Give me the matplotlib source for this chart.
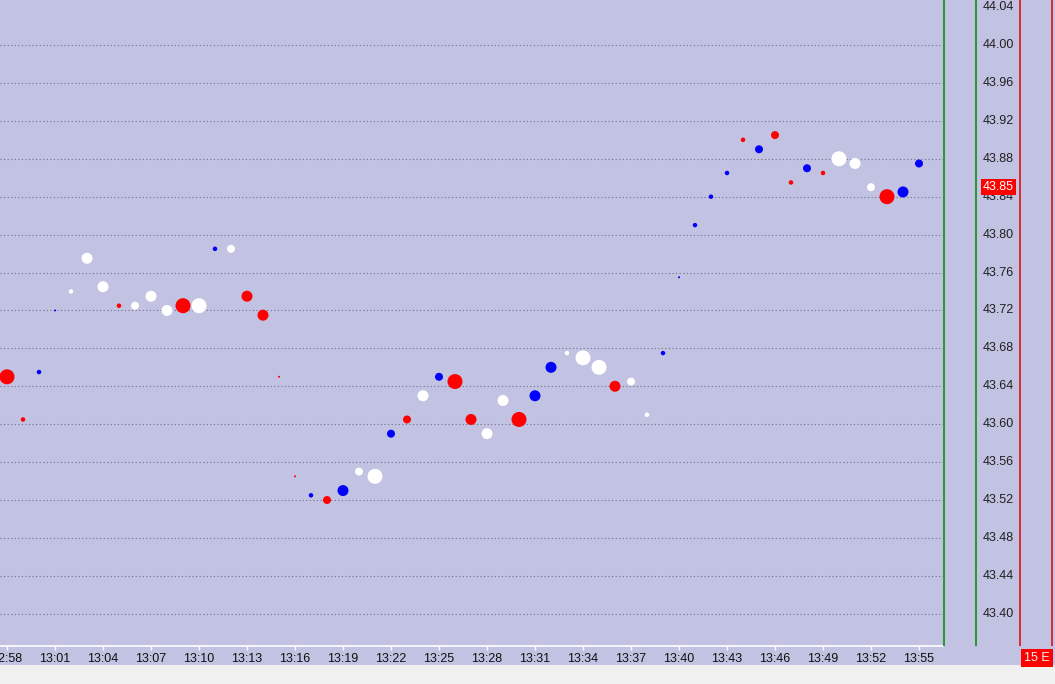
import matplotlib
matplotlib.use("Agg")
import matplotlib.pyplot as plt
from matplotlib.patches import Rectangle

# trade prints, one per minute
times = ["12:58", "12:59", "13:00", "13:01", "13:02", "13:03", "13:04", "13:05",
         "13:06", "13:07", "13:08", "13:09", "13:10", "13:11", "13:12", "13:13",
         "13:14", "13:15", "13:16", "13:17", "13:18", "13:19", "13:20", "13:21",
         "13:22", "13:23", "13:24", "13:25", "13:26", "13:27", "13:28", "13:29",
         "13:30", "13:31", "13:32", "13:33", "13:34", "13:35", "13:36", "13:37",
         "13:38", "13:39", "13:40", "13:41", "13:42", "13:43", "13:44", "13:45",
         "13:46", "13:47", "13:48", "13:49", "13:50", "13:51", "13:52", "13:53",
         "13:54", "13:55"]
prices = [43.65, 43.605, 43.655, 43.72, 43.74, 43.775, 43.745, 43.725,
          43.725, 43.735, 43.72, 43.725, 43.725, 43.785, 43.785, 43.735,
          43.715, 43.65, 43.545, 43.525, 43.52, 43.53, 43.55, 43.545,
          43.59, 43.605, 43.63, 43.65, 43.645, 43.605, 43.59, 43.625,
          43.605, 43.63, 43.66, 43.675, 43.67, 43.66, 43.64, 43.645,
          43.61, 43.675, 43.755, 43.81, 43.84, 43.865, 43.90, 43.89,
          43.905, 43.855, 43.87, 43.865, 43.88, 43.875, 43.85, 43.84,
          43.845, 43.875]
# r = sell, b = buy, w = neutral
sides = ["r", "r", "b", "b", "w", "w", "w", "r",
         "w", "w", "w", "r", "w", "b", "w", "r",
         "r", "r", "r", "b", "r", "b", "w", "w",
         "b", "r", "w", "b", "r", "r", "w", "w",
         "r", "b", "b", "w", "w", "w", "r", "w",
         "w", "b", "b", "b", "b", "b", "r", "b",
         "r", "r", "b", "r", "w", "w", "w", "r",
         "b", "b"]
# volume bucket 1..5
volume = [5, 2, 2, 1, 2, 4, 4, 2,
          3, 4, 4, 5, 5, 2, 3, 4,
          4, 1, 1, 2, 3, 4, 3, 5,
          3, 3, 4, 3, 5, 4, 4, 4,
          5, 4, 4, 2, 5, 5, 4, 3,
          2, 2, 1, 2, 2, 2, 2, 3,
          3, 2, 3, 2, 5, 4, 3, 5,
          4, 3]
tick_times = times[::3]
price_ticks = [44.04, 44.00, 43.96, 43.92, 43.88, 43.84, 43.80, 43.76, 43.72,
               43.68, 43.64, 43.60, 43.56, 43.52, 43.48, 43.44, 43.40]
last_price = 43.85

bg = "#c2c2e2"
colmap = {"r": "#ff0000", "b": "#0000ff", "w": "#ffffff"}
diam = {1: 2, 2: 4.5, 3: 8, 4: 11, 5: 15}  # pixels
fnt = dict(fontfamily="Liberation Sans", fontsize=9)


def minutes(s):
    h, m = s.split(":")
    return int(h) * 60 + int(m)


W, H = 1055, 684
fig = plt.figure(figsize=(W / 100, H / 100), dpi=100, facecolor="#f0f0f0")
fig.patches.append(Rectangle((0, 19 / H), 1, 665 / H, transform=fig.transFigure,
                             facecolor=bg, edgecolor="none", zorder=-10))

ax = fig.add_axes([0, 38 / H, 943 / W, 646 / H], facecolor=bg)
x = [minutes(t) for t in times]
sz = [(diam[v] * 0.72) ** 2 for v in volume]
cols = [colmap[c] for c in sides]
ax.scatter(x, prices, s=sz, c=cols, linewidths=0, zorder=3)

y_top = 44.0 + 45 / 948
y_bot = 44.0 - 601 / 948
ax.set_ylim(y_bot, y_top)
ax.set_xlim(minutes("12:58") - 7 / 16, minutes("12:58") + 936 / 16)

for p in price_ticks[1:]:
    ax.axhline(p, color="#70708a", lw=0.8, ls=(0, (1, 2.2)), zorder=1)

ax.set_yticks([])
ax.set_xticks([minutes(t) for t in tick_times])
ax.set_xticklabels(tick_times, **fnt)
ax.tick_params(axis="x", colors="white", labelcolor="#101010", length=3, width=1, pad=2)
for s in ["top", "left", "right"]:
    ax.spines[s].set_visible(False)
ax.spines["bottom"].set_color("white")
ax.spines["bottom"].set_linewidth(1.2)

# right price scale panel
rax = fig.add_axes([943 / W, 38 / H, 112 / W, 646 / H], facecolor=bg)
rax.set_ylim(y_bot, y_top)
rax.set_xlim(0, 112)
rax.set_xticks([])
rax.set_yticks([])
for s in rax.spines.values():
    s.set_visible(False)
rax.axvline(0.5, color="#008a00", lw=1.1)
rax.axvline(32.5, color="#008a00", lw=1.1)
rax.axvline(76.5, color="#e00000", lw=1.1)
rax.axvline(108.5, color="#e00000", lw=1.1)
for p in price_ticks:
    rax.text(40, p, f"{p:.2f}", va="center", ha="left", color="#202020", **fnt)
rax.text(40, last_price, f"{last_price:.2f}", va="center", ha="left", color="white",
         zorder=5, bbox=dict(boxstyle="square,pad=0.15", facecolor="#ff0000",
                             edgecolor="none"), **fnt)

fig.text(1037 / W, (H - 658) / H, "15 E", ha="center", va="center", color="#f0f0f0",
         bbox=dict(boxstyle="square,pad=0.25", facecolor="#ff0000", edgecolor="none"),
         **fnt)

fig.savefig("out.png", dpi=100, facecolor=fig.get_facecolor())
